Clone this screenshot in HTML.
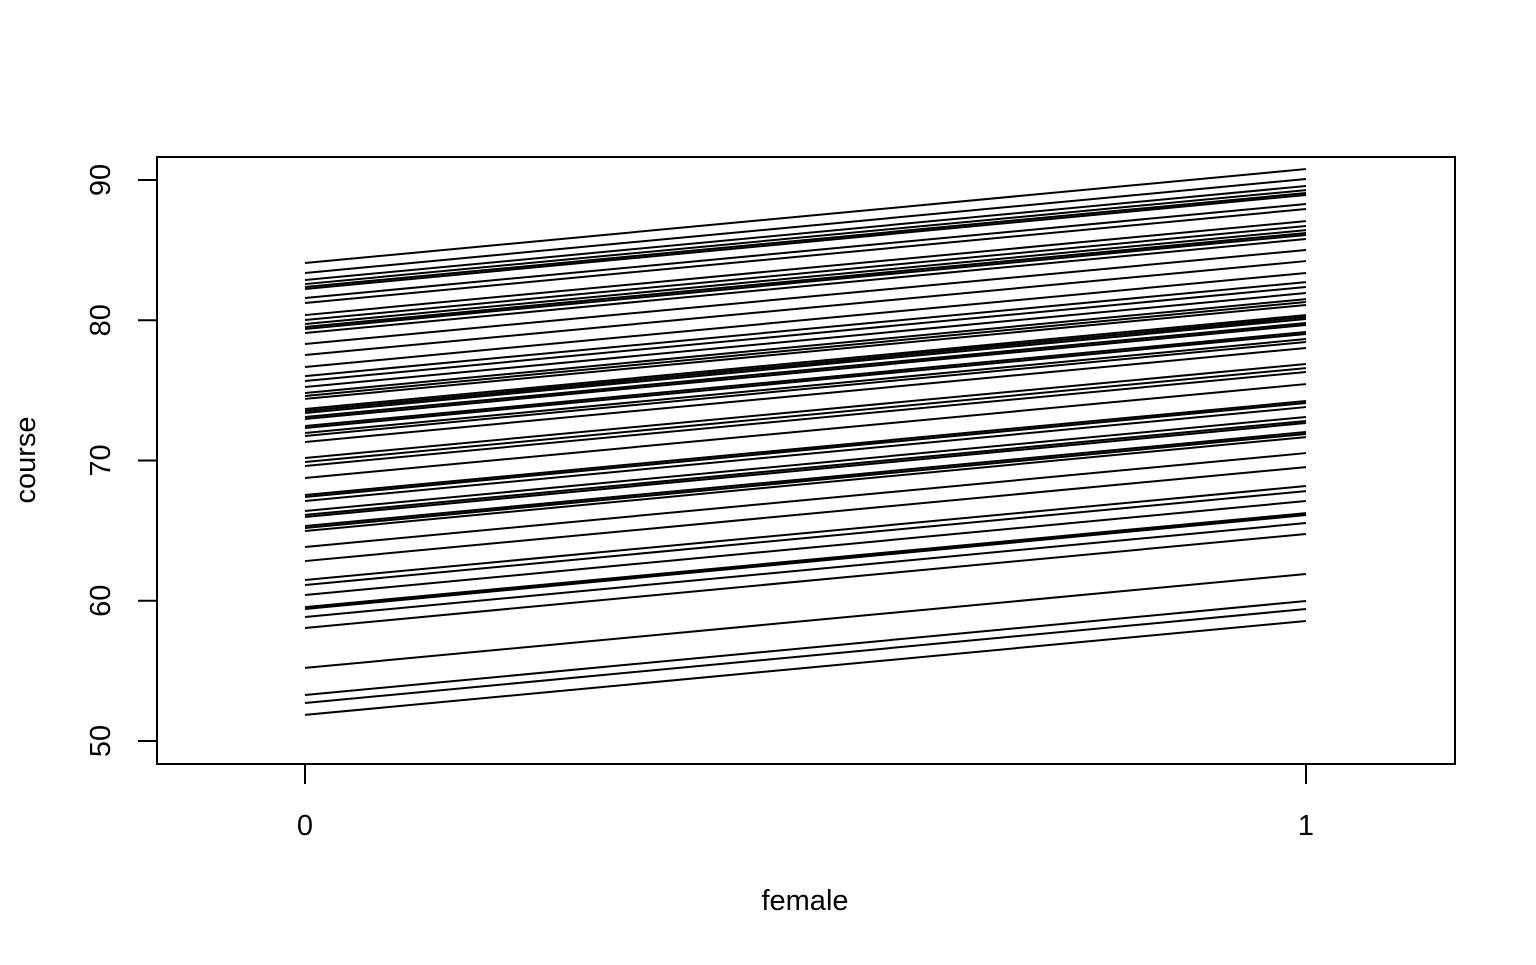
<!DOCTYPE html>
<html><head><meta charset="utf-8"><style>
html,body{margin:0;padding:0;background:#fff}
svg text{font-family:"Liberation Sans",Arial,sans-serif;fill:#000}
</style></head><body>
<svg id="chart" width="1536" height="960" xmlns="http://www.w3.org/2000/svg">
<rect x="157" y="157" width="1298" height="607" fill="none" stroke="#000" stroke-width="2"/>
<g id="lines"></g>
<g id="axes"></g>
<text x="805" y="910" font-size="29" text-anchor="middle">female</text>
<text transform="translate(35,460) rotate(-90)" font-size="29" text-anchor="middle">course</text>
</svg>
<script>
const intercepts = [84.08,83.37,82.87,82.58,82.37,82.23,81.59,81.23,80.37,80.02,79.73,79.52,79.38,79.09,78.31,77.52,76.67,76.02,75.67,75.24,74.81,74.60,74.39,73.67,73.53,73.39,73.10,72.96,72.46,72.32,71.96,71.75,71.32,70.18,69.89,69.61,68.75,67.54,67.40,67.11,66.40,66.12,65.97,65.33,65.19,64.97,63.83,62.83,61.48,61.12,60.41,59.55,59.48,59.41,58.84,58.06,55.21,53.28,52.71,51.86];
const slope = [6.7];
const xCategories = [0, 1];
const yTicks = [50, 60, 70, 80, 90];
const NS = "http://www.w3.org/2000/svg";
const xs = v => 305 + v * (1306 - 305);
const ys = v => 741 - (v - 50) * (741 - 180) / 40;
const lg = document.getElementById('lines');
intercepts.forEach(b => {
  const l = document.createElementNS(NS, 'line');
  l.setAttribute('x1', xs(0)); l.setAttribute('y1', ys(b));
  l.setAttribute('x2', xs(1)); l.setAttribute('y2', ys(b + slope[0]));
  l.setAttribute('stroke', '#000'); l.setAttribute('stroke-width', '2');
  
  
  lg.appendChild(l);
});
const ag = document.getElementById('axes');
function mk(tag, attrs, txt) {
  const e = document.createElementNS(NS, tag);
  for (const k in attrs) e.setAttribute(k, attrs[k]);
  if (txt !== undefined) e.textContent = txt;
  ag.appendChild(e); return e;
}
const yl = mk('line', {x1:157, y1:ys(50), x2:157, y2:ys(90), stroke:'#000','stroke-width':2});


yTicks.forEach(t => {
  const tk = mk('line', {x1:138, y1:ys(t), x2:157, y2:ys(t), stroke:'#000','stroke-width':2});
  
  
  const tx = mk('text', {transform:`translate(110,${ys(t)}) rotate(-90)`, 'font-size':29, 'text-anchor':'middle'}, t);
  
  
});
const xl = mk('line', {x1:xs(0), y1:764, x2:xs(1), y2:764, stroke:'#000','stroke-width':2});


xCategories.forEach(c => {
  const tk = mk('line', {x1:xs(c), y1:764, x2:xs(c), y2:784, stroke:'#000','stroke-width':2});
  
  
  const tx = mk('text', {x:xs(c), y:835, 'font-size':29, 'text-anchor':'middle'}, c);
  
  
});
</script>
</body></html>
